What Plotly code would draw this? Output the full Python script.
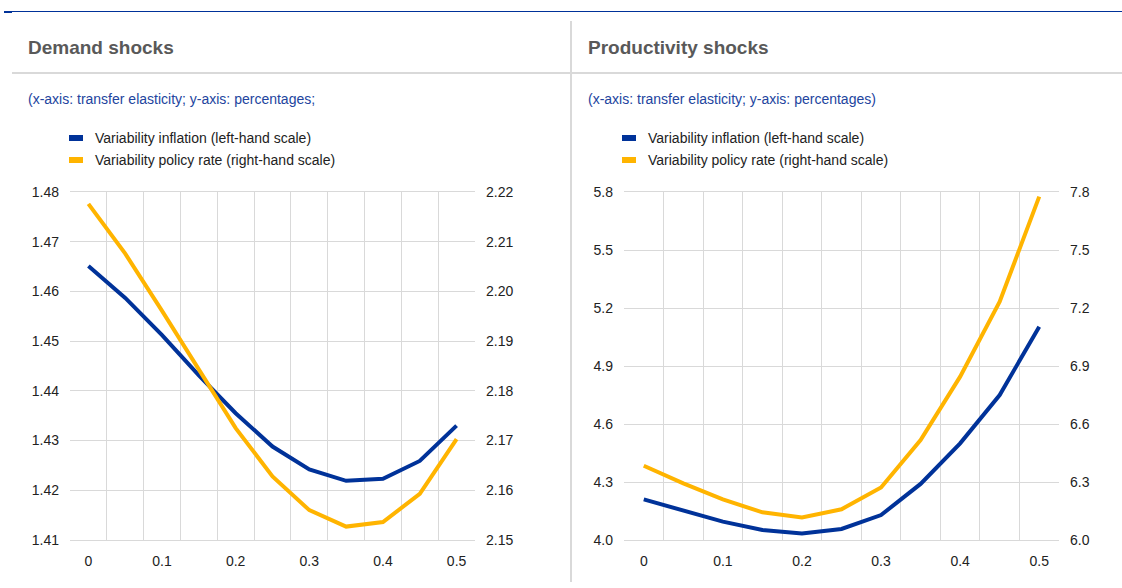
import plotly.graph_objects as go

# transfer elasticity (x categories)
elasticity = [0, 0.05, 0.1, 0.15, 0.2, 0.25, 0.3, 0.35, 0.4, 0.45, 0.5]
x_tick_vals = [0, 0.1, 0.2, 0.3, 0.4, 0.5]
x_tick_text = ["0", "0.1", "0.2", "0.3", "0.4", "0.5"]

# demand shocks
demand_inflation = [1.4651, 1.4587, 1.4512, 1.4431, 1.4355, 1.4288, 1.4242, 1.4219, 1.4223, 1.4259, 1.4330]
demand_policy = [2.2176, 2.2076, 2.1961, 2.1842, 2.1725, 2.1628, 2.1560, 2.1527, 2.1536, 2.1593, 2.1703]

# productivity shocks
prod_inflation = [4.210, 4.150, 4.095, 4.052, 4.034, 4.057, 4.129, 4.290, 4.500, 4.750, 5.103]
prod_policy = [6.384, 6.293, 6.210, 6.143, 6.116, 6.159, 6.272, 6.517, 6.845, 7.233, 7.776]

titles = ["Demand shocks", "Productivity shocks"]
subtitles = ["(x-axis: transfer elasticity; y-axis: percentages;",
             "(x-axis: transfer elasticity; y-axis: percentages)"]
series_names = ["Variability inflation (left-hand scale)",
                "Variability policy rate (right-hand scale)"]

BLUE = "#003299"
YELLOW = "#FFB400"
GRID = "#d9d9d9"
FONT = "Liberation Sans, Arial, sans-serif"

W, H = 1122, 588


def px(x):
    return x / W


def py(y):
    return 1 - y / H


fig = go.Figure()

fig.add_trace(go.Scatter(x=elasticity, y=demand_inflation, name=series_names[0],
                         mode="lines", line=dict(color=BLUE, width=4),
                         xaxis="x", yaxis="y"))
fig.add_trace(go.Scatter(x=elasticity, y=demand_policy, name=series_names[1],
                         mode="lines", line=dict(color=YELLOW, width=4),
                         xaxis="x", yaxis="y2"))
fig.add_trace(go.Scatter(x=elasticity, y=prod_inflation, name=series_names[0],
                         mode="lines", line=dict(color=BLUE, width=4),
                         xaxis="x2", yaxis="y3"))
fig.add_trace(go.Scatter(x=elasticity, y=prod_policy, name=series_names[1],
                         mode="lines", line=dict(color=YELLOW, width=4),
                         xaxis="x2", yaxis="y4"))

minor_vals = [-0.025 + 0.05 * k for k in range(12)]
tick_font = dict(family=FONT, size=14, color="#222222")
y_dom = [py(540), py(192)]


def x_axis(domain, anchor):
    return dict(domain=domain, anchor=anchor, range=[-0.025, 0.525],
                tickmode="array", tickvals=x_tick_vals, ticktext=x_tick_text,
                showgrid=False, zeroline=False, ticks="", automargin=False,
                showline=True, linecolor=GRID, linewidth=1, mirror=True,
                minor=dict(tickmode="array", tickvals=minor_vals, showgrid=True,
                           gridcolor=GRID, gridwidth=1, ticks=""),
                tickfont=tick_font, ticklabelstandoff=8, fixedrange=True)


def y_axis(rng, dtick, fmt, anchor, side="left", overlay=None):
    d = dict(domain=y_dom, anchor=anchor, range=rng, dtick=dtick, tick0=rng[0],
             tickformat=fmt, side=side, zeroline=False, ticks="", automargin=False,
             tickfont=tick_font, ticklabelstandoff=10, fixedrange=True)
    if overlay:
        d.update(overlaying=overlay, showgrid=False)
    else:
        d.update(showgrid=True, gridcolor=GRID, gridwidth=1)
    return d


fig.update_layout(
    width=W, height=H,
    margin=dict(l=0, r=0, t=0, b=0),
    paper_bgcolor="white", plot_bgcolor="white",
    showlegend=False,
    xaxis=x_axis([px(70), px(475)], "y"),
    xaxis2=x_axis([px(624), px(1059)], "y3"),
    yaxis=y_axis([1.41, 1.48], 0.01, ".2f", "x"),
    yaxis2=y_axis([2.15, 2.22], 0.01, ".2f", "x", side="right", overlay="y"),
    yaxis3=y_axis([4.0, 5.8], 0.3, ".1f", "x2"),
    yaxis4=y_axis([6.0, 7.8], 0.3, ".1f", "x2", side="right", overlay="y3"),
)

# frame lines: top rule, title separator, panel divider
shapes = [
    dict(type="line", xref="paper", yref="paper", x0=px(4), x1=1, y0=py(11.5), y1=py(11.5),
         line=dict(color=BLUE, width=1)),
    dict(type="line", xref="paper", yref="paper", x0=px(4), x1=px(12), y0=py(12), y1=py(12),
         line=dict(color=BLUE, width=2)),
    dict(type="line", xref="paper", yref="paper", x0=px(12), x1=1, y0=py(73), y1=py(73),
         line=dict(color=GRID, width=2)),
    dict(type="line", xref="paper", yref="paper", x0=px(571), x1=px(571), y0=py(21), y1=py(582),
         line=dict(color=GRID, width=2)),
]

annotations = []
panel_left = [26, 586]
swatch_left = [69, 622]
for i in range(2):
    annotations.append(dict(text="<b>%s</b>" % titles[i], xref="paper", yref="paper",
                            x=px(panel_left[i]), y=py(48), xanchor="left", yanchor="middle",
                            showarrow=False, font=dict(family=FONT, size=19, color="#595959")))
    annotations.append(dict(text=subtitles[i], xref="paper", yref="paper",
                            x=px(panel_left[i]), y=py(99), xanchor="left", yanchor="middle",
                            showarrow=False, font=dict(family=FONT, size=14, color="#22449e")))
    for j, (name, col) in enumerate(zip(series_names, [BLUE, YELLOW])):
        yc = 138 + 22 * j
        shapes.append(dict(type="rect", xref="paper", yref="paper",
                           x0=px(swatch_left[i]), x1=px(swatch_left[i] + 14),
                           y0=py(yc + 3), y1=py(yc - 3), fillcolor=col, line=dict(width=0)))
        annotations.append(dict(text=name, xref="paper", yref="paper",
                                x=px(swatch_left[i] + 24), y=py(yc), xanchor="left",
                                yanchor="middle", showarrow=False,
                                font=dict(family=FONT, size=14, color="#222222")))

fig.update_layout(shapes=shapes, annotations=annotations)

# drop the page's default body margin and scrollbars so the figure fills the window exactly
fig.write_html("out.html", config={"displayModeBar": False},
               post_script="document.body.style.margin='0';"
                           "document.documentElement.style.overflow='hidden';")
